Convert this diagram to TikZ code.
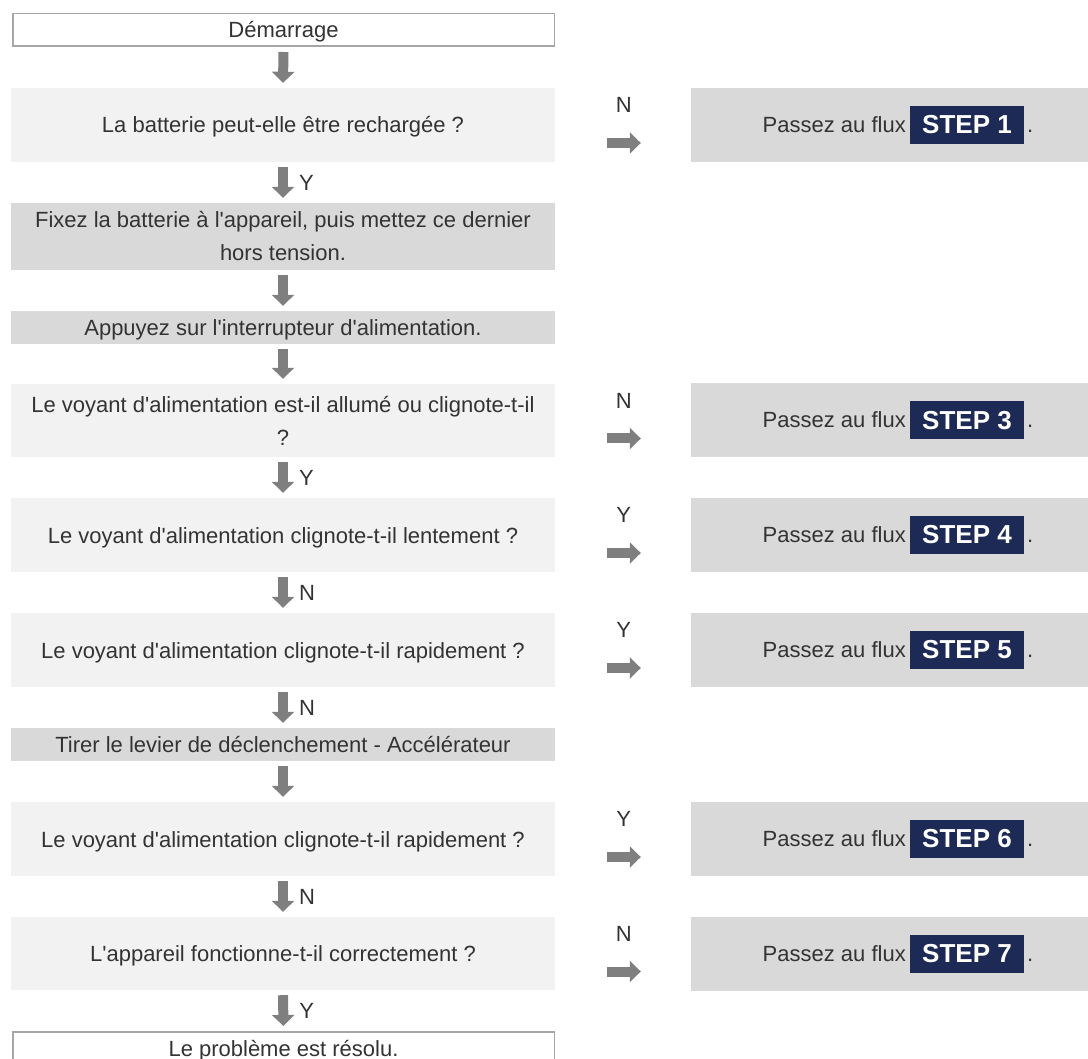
\documentclass[tikz,border=0pt]{standalone}
\usepackage{fontspec}
\setmainfont{Liberation Sans}[Ligatures=TeXOff]
\usetikzlibrary{arrows.meta,calc}
\definecolor{txt}{HTML}{333333}
\definecolor{qfill}{HTML}{F2F2F2}
\definecolor{afill}{HTML}{D9D9D9}
\definecolor{arr}{HTML}{7F7F7F}
\definecolor{bord}{HTML}{A6A6A6}
\definecolor{navy}{HTML}{1C2A55}
\begin{document}
\begin{tikzpicture}[x=1pt,y=-1pt,
  base/.style={rectangle, inner sep=0pt, align=center, text=txt, font=\fontsize{22}{33}\selectfont},
  qbox/.style={base, fill=qfill, minimum width=544pt, minimum height=74pt},
  abox/.style={base, fill=afill, minimum width=544pt},
  endbox/.style={base, fill=white, draw=bord, line width=1.5pt, minimum width=541.5pt, minimum height=32.5pt},
  rbox/.style={rectangle, fill=afill, minimum width=397pt, inner sep=0pt},
  one/.style={text height=16pt, text depth=0pt},
  ptxt/.style={inner sep=0pt, text=txt, font=\fontsize{22}{26}\selectfont},
  stepbox/.style={rectangle, fill=navy, text=white, inner sep=0pt, minimum width=114pt, minimum height=38pt, font=\fontsize{26}{30}\selectfont\bfseries},
  lbl/.style={inner sep=0pt, text=txt, font=\fontsize{22}{26}\selectfont},
  varrow/.style={draw=arr, line width=10pt, -{Triangle[width=22pt,length=11pt,fill=arr]}},
  harrow/.style={draw=arr, line width=10pt, -{Triangle[width=21pt,length=11pt,fill=arr]}}
]
\useasboundingbox (0,0) rectangle (1088,1059);

% left column
\node[endbox, one] (start) at (283.5,30) {Démarrage};
\node[qbox, one] (q1) at (283,125) {La batterie peut-elle être rechargée ?};
\node[abox, minimum height=67pt] (a1) at (283,236.5) {Fixez la batterie à l'appareil, puis mettez ce dernier\\hors tension.};
\node[abox, one, minimum height=33pt] (a2) at (283,327.5) {Appuyez sur l'interrupteur d'alimentation.};
\node[qbox, minimum height=73pt] (q2) at (283,420.5) {Le voyant d'alimentation est-il allumé ou clignote-t-il\\?};
\node[qbox, one] (q3) at (283,535) {Le voyant d'alimentation clignote-t-il lentement ?};
\node[qbox, one] (q4) at (283,650) {Le voyant d'alimentation clignote-t-il rapidement ?};
\node[abox, one, minimum height=33pt] (a3) at (283,744.5) {Tirer le levier de déclenchement - Accélérateur};
\node[qbox, one] (q5) at (283,839) {Le voyant d'alimentation clignote-t-il rapidement ?};
\node[qbox, one, minimum height=73pt] (q6) at (283,953.5) {L'appareil fonctionne-t-il correctement ?};
\node[endbox, one] (end) at (283.5,1048) {Le problème est résolu.};

% vertical arrows
\foreach \a/\b in {start/q1, q1/a1, a1/a2, a2/q2, q2/q3, q3/q4, q4/a3, a3/q5, q5/q6, q6/end}
  \draw[varrow] ([yshift=-5pt]\a.south) -- ([yshift=5pt]\b.north);

% vertical labels
\foreach \a/\b/\t in {q1/a1/Y, q2/q3/Y, q3/q4/N, q4/a3/N, q5/q6/N, q6/end/Y}
  \node[lbl, anchor=west] (l-\a) at ($(\a.south)!0.5!(\b.north)+(16,0)$) {\t};

% right column
\foreach \q/\n/\t/\y in {q1/1/N/125, q2/3/N/420.5, q3/4/Y/535, q4/5/Y/650, q5/6/Y/839, q6/7/N/953.5}{
  \node[rbox, minimum height=74pt] (r\n) at (889.5,\y) {};
  \node[ptxt, anchor=base east] (p\n) at (906,\y+7.5) {Passez au flux};
  \node[stepbox] (s\n) at (967,\y) {STEP \n};
  \node[ptxt, anchor=base west] (d\n) at (1027,\y+7.5) {.};
  \draw[harrow] ([xshift=52pt,yshift=-18pt]\q.east) -- ([xshift=-50pt,yshift=-18pt]r\n.west);
  \node[lbl] (h\n) at ([xshift=68.5pt,yshift=20pt]\q.east) {\t};
}
\end{tikzpicture}
\end{document}
